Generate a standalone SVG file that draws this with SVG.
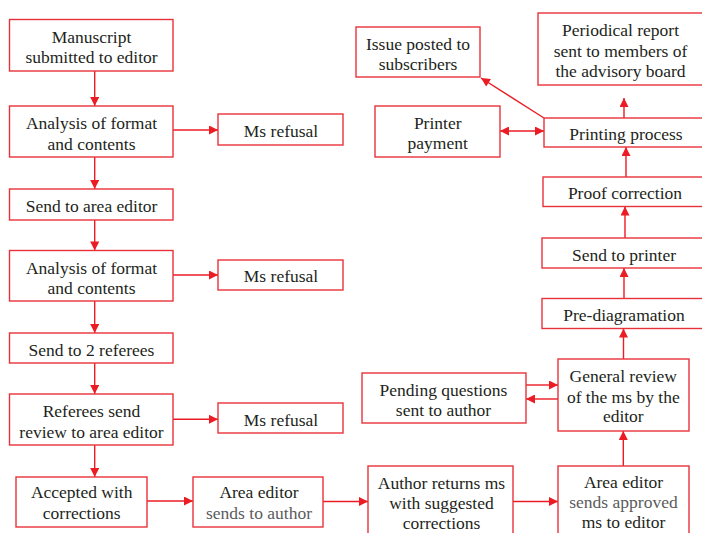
<svg xmlns="http://www.w3.org/2000/svg" width="702" height="533" viewBox="0 0 702 533">
<style>
  .box{fill:#ffffff;stroke:#e8323b;stroke-width:1.4}
  .t{font-family:'Liberation Serif','Times New Roman','DejaVu Serif',Times,serif;font-size:17.5px;fill:#231f20;text-anchor:middle}
  .g{fill:#5a5b5d}
  .c{stroke:#ec1c24;stroke-width:1.4;fill:none}
</style>
<defs>
  <marker id="ah" viewBox="0 0 10 10" refX="10" refY="5" markerUnits="userSpaceOnUse" markerWidth="9.5" markerHeight="9" orient="auto">
    <path d="M0,0 L10,5 L0,10 z" fill="#ec1c24"/>
  </marker>
  <marker id="as" viewBox="0 0 10 10" refX="0" refY="5" markerUnits="userSpaceOnUse" markerWidth="9.5" markerHeight="9" orient="auto">
    <path d="M10,0 L0,5 L10,10 z" fill="#ec1c24"/>
  </marker>
</defs>
<rect width="702" height="533" fill="#ffffff"/>

<g id="connectors">
  <line class="c" x1="94.7" y1="71" x2="94.7" y2="106" marker-end="url(#ah)"/>
  <line class="c" x1="173" y1="130" x2="218" y2="130" marker-end="url(#ah)"/>
  <line class="c" x1="94.7" y1="157" x2="94.7" y2="189" marker-end="url(#ah)"/>
  <line class="c" x1="94.7" y1="220" x2="94.7" y2="250.5" marker-end="url(#ah)"/>
  <line class="c" x1="173" y1="275" x2="218" y2="275" marker-end="url(#ah)"/>
  <line class="c" x1="94.7" y1="301" x2="94.7" y2="333" marker-end="url(#ah)"/>
  <line class="c" x1="94.7" y1="363" x2="94.7" y2="394" marker-end="url(#ah)"/>
  <line class="c" x1="173" y1="419.3" x2="218" y2="419.3" marker-end="url(#ah)"/>
  <line class="c" x1="94.7" y1="445" x2="94.7" y2="477" marker-end="url(#ah)"/>
  <line class="c" x1="147" y1="501" x2="193" y2="501" marker-end="url(#ah)"/>
  <line class="c" x1="323" y1="501.5" x2="368" y2="501.5" marker-end="url(#ah)"/>
  <line class="c" x1="513" y1="501.5" x2="558" y2="501.5" marker-end="url(#ah)"/>
  <line class="c" x1="623.3" y1="466" x2="623.3" y2="431" marker-end="url(#ah)"/>
  <line class="c" x1="526" y1="385" x2="558" y2="385" marker-end="url(#ah)"/>
  <line class="c" x1="558" y1="399" x2="526" y2="399" marker-end="url(#ah)"/>
  <line class="c" x1="623.5" y1="359" x2="623.5" y2="328.5" marker-end="url(#ah)"/>
  <line class="c" x1="624" y1="298.5" x2="624" y2="268" marker-end="url(#ah)"/>
  <line class="c" x1="625" y1="238" x2="625" y2="206.5" marker-end="url(#ah)"/>
  <line class="c" x1="626" y1="177" x2="626" y2="147" marker-end="url(#ah)"/>
  <line class="c" x1="624" y1="118" x2="624" y2="98" marker-end="url(#ah)"/>
  <line class="c" x1="544" y1="118" x2="481" y2="78" marker-end="url(#ah)"/>
  <line class="c" x1="500" y1="131" x2="544" y2="131" marker-start="url(#as)" marker-end="url(#ah)"/>
</g>

<g id="n1"><rect class="box" x="9.5" y="19.5" width="163.5" height="51.5"/>
  <text class="t" x="91.5" y="42.7">Manuscript</text><text class="t" x="91.5" y="63.2">submitted to editor</text></g>
<g id="n2"><rect class="box" x="9.5" y="106" width="163.5" height="51"/>
  <text class="t" x="91.5" y="129.3">Analysis of format</text><text class="t" x="91.5" y="149.5">and contents</text></g>
<g id="n3"><rect class="box" x="218" y="114" width="125" height="31"/>
  <text class="t" x="281" y="136.7">Ms refusal</text></g>
<g id="n4"><rect class="box" x="9.5" y="189" width="163.5" height="31"/>
  <text class="t" x="91.5" y="212">Send to area editor</text></g>
<g id="n5"><rect class="box" x="9.5" y="250.5" width="163.5" height="50.5"/>
  <text class="t" x="91.5" y="273.5">Analysis of format</text><text class="t" x="91.5" y="294">and contents</text></g>
<g id="n6"><rect class="box" x="218" y="260" width="125" height="30"/>
  <text class="t" x="281" y="282.3">Ms refusal</text></g>
<g id="n7"><rect class="box" x="9.5" y="333" width="163.5" height="30"/>
  <text class="t" x="91.5" y="355.5">Send to 2 referees</text></g>
<g id="n8"><rect class="box" x="9.5" y="394" width="163.5" height="51"/>
  <text class="t" x="91.5" y="417">Referees send</text><text class="t" x="91.5" y="437.5">review to area editor</text></g>
<g id="n9"><rect class="box" x="218" y="403" width="125" height="30"/>
  <text class="t" x="281" y="425.5">Ms refusal</text></g>
<g id="n10"><rect class="box" x="16" y="477" width="131" height="50"/>
  <text class="t" x="81.7" y="498.3">Accepted with</text><text class="t" x="81.7" y="518.5">corrections</text></g>
<g id="n11"><rect class="box" x="193" y="477" width="130" height="50"/>
  <text class="t" x="259" y="498.3">Area editor</text><text class="t g" x="259" y="518.5">sends to author</text></g>
<g id="n12"><rect class="box" x="368" y="466" width="145" height="75"/>
  <text class="t" x="441.5" y="489.3">Author returns ms</text><text class="t" x="441.5" y="509.3">with suggested</text><text class="t" x="441.5" y="528.5">corrections</text></g>
<g id="n13"><rect class="box" x="558" y="466" width="131" height="75"/>
  <text class="t" x="623.5" y="488.3">Area editor</text><text class="t g" x="623.5" y="508.3">sends approved</text><text class="t" x="623.5" y="527.5">ms to editor</text></g>
<g id="n14"><rect class="box" x="558" y="359" width="131" height="72"/>
  <text class="t" x="623.3" y="381.7">General review</text><text class="t" x="623.3" y="402.7">of the ms by the</text><text class="t" x="623.3" y="421.7">editor</text></g>
<g id="n15"><rect class="box" x="362" y="373" width="164" height="50"/>
  <text class="t" x="443.5" y="395.5">Pending questions</text><text class="t" x="443.5" y="416">sent to author</text></g>
<g id="n16"><rect class="box" x="542" y="298.5" width="166" height="30"/>
  <text class="t" x="624" y="321">Pre-diagramation</text></g>
<g id="n17"><rect class="box" x="542" y="238" width="166" height="30"/>
  <text class="t" x="624" y="260.5">Send to printer</text></g>
<g id="n18"><rect class="box" x="543" y="177" width="166" height="29.5"/>
  <text class="t" x="625" y="199">Proof correction</text></g>
<g id="n19"><rect class="box" x="544" y="118" width="166" height="29"/>
  <text class="t" x="626" y="140">Printing process</text></g>
<g id="n20"><rect class="box" x="538" y="13" width="166" height="72"/>
  <text class="t" x="620.5" y="35.5">Periodical report</text><text class="t" x="620.5" y="56.5">sent to members of</text><text class="t" x="620.5" y="76.5">the advisory board</text></g>
<g id="n21"><rect class="box" x="356" y="27" width="124" height="50"/>
  <text class="t" x="418" y="49.5">Issue posted to</text><text class="t" x="418" y="70">subscribers</text></g>
<g id="n22"><rect class="box" x="375" y="106" width="125" height="51"/>
  <text class="t" x="437.7" y="128.5">Printer</text><text class="t" x="437.7" y="149">payment</text></g>
</svg>
